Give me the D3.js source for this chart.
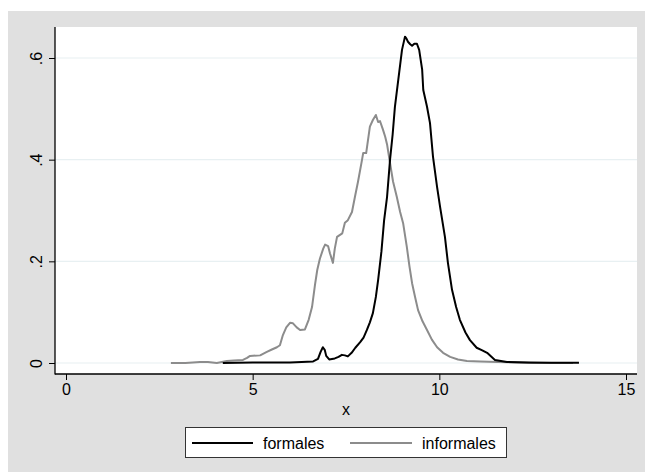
<!DOCTYPE html>
<html>
<head>
<meta charset="utf-8">
<script src="https://cdn.jsdelivr.net/npm/d3@7"></script>
<style>
  body { margin: 0; background: #fff; }
  text { font-family: "Liberation Sans", Arial, sans-serif; fill: #000; }
</style>
</head>
<body>
<div id="chart"></div>
<script>
// density estimates
const formalesX = [4.2, 5.0, 6.0, 6.62, 6.75, 6.82, 6.88, 6.93, 6.97, 7.05, 7.2, 7.3, 7.39, 7.47, 7.55, 7.65, 7.75, 7.88, 7.97, 8.06, 8.14, 8.22, 8.3, 8.36, 8.45, 8.52, 8.6, 8.68, 8.75, 8.81, 8.9, 9.0, 9.08, 9.12, 9.16, 9.22, 9.27, 9.33, 9.4, 9.46, 9.54, 9.57, 9.67, 9.75, 9.83, 9.94, 10.02, 10.15, 10.23, 10.34, 10.45, 10.55, 10.7, 10.82, 11.0, 11.15, 11.28, 11.49, 11.81, 12.43, 13.0, 13.74];
const formalesY = [0, 0.001, 0.001, 0.003, 0.008, 0.022, 0.031, 0.026, 0.014, 0.007, 0.009, 0.012, 0.016, 0.015, 0.013, 0.02, 0.03, 0.041, 0.05, 0.065, 0.08, 0.098, 0.13, 0.163, 0.22, 0.28, 0.327, 0.4, 0.45, 0.504, 0.557, 0.616, 0.642, 0.638, 0.632, 0.627, 0.624, 0.628, 0.628, 0.616, 0.577, 0.537, 0.504, 0.472, 0.406, 0.346, 0.307, 0.248, 0.197, 0.144, 0.11, 0.085, 0.06, 0.045, 0.03, 0.025, 0.02, 0.006, 0.002, 0.001, 0.0005, 0.0005];

const informalesX = [2.81, 3.2, 3.59, 3.8, 4.04, 4.31, 4.5, 4.74, 4.85, 4.93, 5.2, 5.38, 5.5, 5.65, 5.73, 5.81, 5.9, 6.0, 6.08, 6.18, 6.27, 6.4, 6.5, 6.59, 6.67, 6.73, 6.8, 6.89, 6.94, 7.02, 7.07, 7.15, 7.2, 7.26, 7.34, 7.4, 7.47, 7.55, 7.66, 7.74, 7.82, 7.93, 7.96, 8.04, 8.14, 8.22, 8.3, 8.36, 8.41, 8.49, 8.55, 8.6, 8.68, 8.76, 8.86, 8.95, 9.03, 9.13, 9.2, 9.27, 9.35, 9.43, 9.55, 9.67, 9.8, 9.94, 10.1, 10.29, 10.5, 10.74, 11.1, 11.55, 12.0, 12.4, 13.0, 13.58];
const informalesY = [0, 0, 0.002, 0.002, 0, 0.004, 0.005, 0.006, 0.01, 0.014, 0.015, 0.022, 0.026, 0.031, 0.035, 0.055, 0.07, 0.079, 0.078, 0.07, 0.065, 0.066, 0.085, 0.11, 0.154, 0.183, 0.205, 0.225, 0.233, 0.23, 0.216, 0.197, 0.225, 0.248, 0.252, 0.255, 0.276, 0.281, 0.297, 0.327, 0.356, 0.4, 0.413, 0.413, 0.465, 0.478, 0.488, 0.474, 0.476, 0.459, 0.445, 0.43, 0.393, 0.357, 0.327, 0.297, 0.275, 0.228, 0.19, 0.157, 0.13, 0.104, 0.082, 0.065, 0.046, 0.031, 0.02, 0.012, 0.007, 0.004, 0.003, 0.002, 0.001, 0, 0, 0];

const xTicks = [0, 5, 10, 15];
const yTicks = [0, 0.2, 0.4, 0.6];
const yTickLabels = ["0", ".2", ".4", ".6"];
const seriesNames = ["formales", "informales"];

const W = 645, H = 472;
const plot = { left: 55, right: 637, top: 27, bottom: 374 };

const svg = d3.select("#chart").append("svg")
    .attr("width", W)
    .attr("height", H);

// grey graph region + white plot region
svg.append("rect").attr("x", 8).attr("y", 11).attr("width", W - 8).attr("height", H - 11).attr("fill", "#e0e0e0");
svg.append("rect")
    .attr("x", plot.left).attr("y", plot.top)
    .attr("width", plot.right - plot.left).attr("height", plot.bottom - plot.top)
    .attr("fill", "#fff");

const x = d3.scaleLinear().domain([0, 15]).range([66, 626]);
const y = d3.scaleLinear().domain([0, 0.6]).range([363, 58]);

// gridlines
svg.append("g").selectAll("line").data(yTicks).enter().append("line")
    .attr("x1", plot.left).attr("x2", plot.right)
    .attr("y1", d => y(d)).attr("y2", d => y(d))
    .attr("stroke", "#e8f0f2").attr("stroke-width", 1.2);

// axes
const yAxis = svg.append("g")
    .attr("transform", `translate(${plot.left},0)`)
    .call(d3.axisLeft(y).tickValues(yTicks).tickSize(6).tickPadding(5)
        .tickFormat((d, i) => yTickLabels[i]));
yAxis.select(".domain").remove();
yAxis.selectAll("text")
    .attr("font-size", 16)
    .attr("text-anchor", "middle")
    .attr("dy", 0)
    .attr("x", 0)
    .attr("transform", "translate(-12,0) rotate(-90)")
    .attr("dy", "-0.05em");

const xAxis = svg.append("g")
    .attr("transform", `translate(0,${plot.bottom})`)
    .call(d3.axisBottom(x).tickValues(xTicks).tickSize(6).tickPadding(4)
        .tickFormat(d3.format("d")));
xAxis.select(".domain").remove();
xAxis.selectAll("text").attr("font-size", 16);

svg.selectAll(".tick line").attr("stroke", "#000");
svg.selectAll(".tick text").style("font-family", "'Liberation Sans', Arial, sans-serif").attr("fill", "#000");

// axis lines
svg.append("line").attr("x1", plot.left).attr("x2", plot.left)
    .attr("y1", plot.top).attr("y2", plot.bottom + 0.5)
    .attr("stroke", "#000").attr("stroke-width", 1.3);
svg.append("line").attr("x1", plot.left).attr("x2", plot.right)
    .attr("y1", plot.bottom).attr("y2", plot.bottom)
    .attr("stroke", "#000").attr("stroke-width", 1.3);

svg.append("text").attr("x", 346).attr("y", 415)
    .attr("text-anchor", "middle").attr("font-size", 16).text("x");

// curves
const line = d3.line().x(d => x(d[0])).y(d => y(d[1])).curve(d3.curveLinear);
const informales = d3.zip(informalesX, informalesY);
const formales = d3.zip(formalesX, formalesY);

svg.append("path").datum(informales)
    .attr("d", line).attr("fill", "none")
    .attr("stroke", "#8c8c8c").attr("stroke-width", 2).attr("stroke-linejoin", "round");
svg.append("path").datum(formales)
    .attr("d", line).attr("fill", "none")
    .attr("stroke", "#000").attr("stroke-width", 2).attr("stroke-linejoin", "round");

// legend
const legend = svg.append("g");
legend.append("rect").attr("x", 185.5).attr("y", 427.5).attr("width", 321).attr("height", 30)
    .attr("fill", "#fff").attr("stroke", "#333").attr("stroke-width", 1);
const legendItems = [
    { name: seriesNames[0], color: "#000", x1: 192, x2: 253, tx: 263 },
    { name: seriesNames[1], color: "#8c8c8c", x1: 350, x2: 412, tx: 422 }
];
legendItems.forEach(it => {
    legend.append("line").attr("x1", it.x1).attr("x2", it.x2).attr("y1", 443).attr("y2", 443)
        .attr("stroke", it.color).attr("stroke-width", 2);
    legend.append("text").attr("x", it.tx).attr("y", 449)
        .attr("font-size", 16).text(it.name);
});
</script>
</body>
</html>
